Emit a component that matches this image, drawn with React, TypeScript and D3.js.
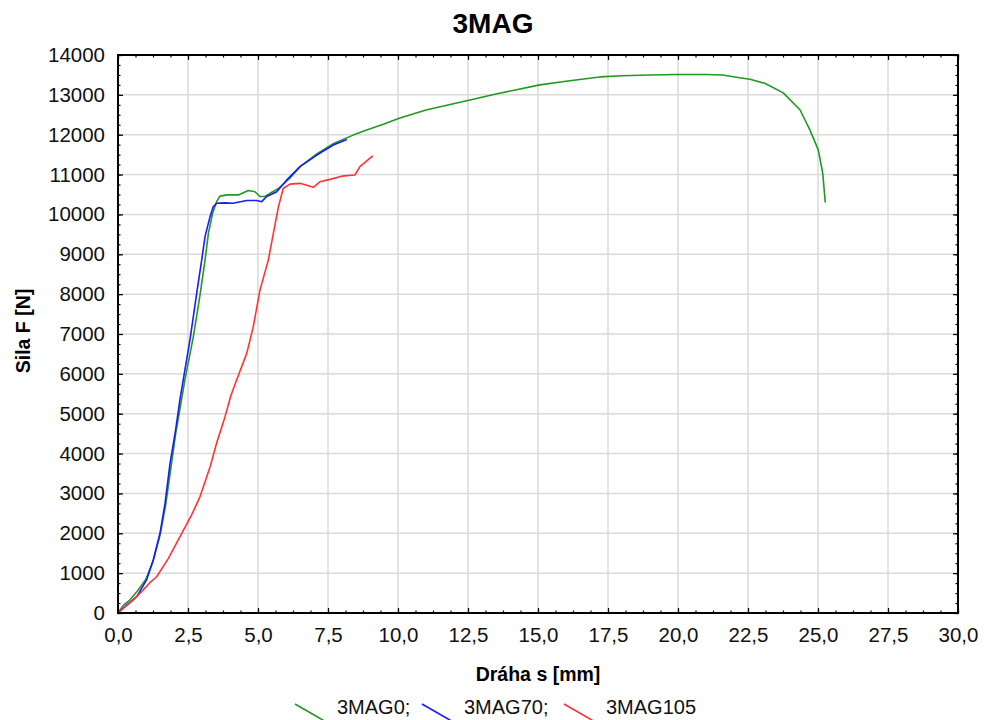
import React, { useEffect, useRef } from 'react';
import * as d3 from 'd3';

// 3MAG0 (green)
const s0 = [0, 0.2, 0.43, 0.7, 1.0, 1.25, 1.5, 1.7, 1.9, 2.06, 2.39, 2.69, 2.93, 3.11, 3.23, 3.38, 3.52, 3.64, 3.9, 4.3, 4.65, 4.89, 5.07, 5.25, 5.43, 5.73, 6.14, 6.5, 7.1, 7.7, 8.4, 8.88, 9.5, 10.07, 11.0, 12.57, 13.5, 15.07, 16.0, 17.2, 18.0, 19.0, 20.0, 21.0, 21.6, 22.2, 22.57, 23.1, 23.76, 24.36, 24.71, 25.01, 25.17, 25.26];
const f0 = [0, 200, 330, 560, 850, 1300, 1950, 2700, 3700, 4500, 5850, 6930, 7980, 8860, 9530, 10030, 10320, 10460, 10490, 10490, 10600, 10570, 10450, 10450, 10530, 10650, 10910, 11200, 11520, 11780, 11990, 12120, 12270, 12420, 12620, 12870, 13020, 13250, 13340, 13450, 13480, 13500, 13510, 13510, 13500, 13430, 13390, 13290, 13050, 12620, 12120, 11620, 11030, 10300];

// 3MAG70 (blue)
const s70 = [0, 0.31, 0.67, 1.02, 1.26, 1.5, 1.68, 1.86, 2.04, 2.21, 2.33, 2.57, 2.81, 2.99, 3.11, 3.29, 3.4, 3.52, 3.8, 4.1, 4.6, 4.95, 5.13, 5.31, 5.67, 6.02, 6.5, 7.1, 7.69, 8.17];
const f70 = [0, 200, 410, 830, 1330, 2000, 2750, 3760, 4510, 5340, 5850, 6850, 8020, 8860, 9450, 9950, 10190, 10280, 10290, 10280, 10350, 10350, 10320, 10450, 10570, 10860, 11200, 11490, 11740, 11880];

// 3MAG105 (red)
const s105 = [0, 0.55, 0.9, 1.14, 1.38, 1.8, 2.21, 2.63, 2.93, 3.29, 3.52, 3.82, 4.03, 4.24, 4.6, 4.83, 5.07, 5.37, 5.55, 5.73, 5.9, 6.14, 6.5, 6.98, 7.21, 7.57, 7.99, 8.46, 8.64, 9.1];
const f105 = [0, 330, 580, 760, 910, 1370, 1910, 2460, 2920, 3670, 4260, 4920, 5450, 5850, 6520, 7180, 8100, 8860, 9530, 10190, 10650, 10760, 10780, 10680, 10820, 10880, 10960, 10990, 11200, 11470];

const seriesNames = ['3MAG0;', '3MAG70;', '3MAG105'];
const seriesColors = ['#1f9a1f', '#1a1aff', '#ff3333'];

const xTicks = d3.range(0, 30.01, 2.5);
const yTicks = d3.range(0, 14001, 1000);

const FONT = '"Liberation Sans", Arial, sans-serif';

const App = () => {
  const svgRef = useRef<SVGSVGElement>(null);

  useEffect(() => {
    const svg = d3.select(svgRef.current);
    svg.selectAll('*').remove();

    const W = 985, H = 720;
    const margin = { top: 55, right: 27, bottom: 107, left: 118 };
    const width = W - margin.left - margin.right;
    const height = H - margin.top - margin.bottom;

    const x = d3.scaleLinear().domain([0, 30]).range([0, width]);
    const y = d3.scaleLinear().domain([0, 14000]).range([height, 0]);

    const g = svg.append('g').attr('transform', `translate(${margin.left},${margin.top})`);

    // grid
    g.append('g').selectAll('line').data(xTicks.slice(1, -1)).join('line')
      .attr('x1', d => x(d)).attr('x2', d => x(d))
      .attr('y1', 0).attr('y2', height)
      .attr('stroke', '#dadada').attr('stroke-width', 1.5);
    g.append('g').selectAll('line').data(yTicks.slice(1, -1)).join('line')
      .attr('y1', d => y(d)).attr('y2', d => y(d))
      .attr('x1', 0).attr('x2', width)
      .attr('stroke', '#dadada').attr('stroke-width', 1.5);

    // curves
    const line = d3.line<[number, number]>().x(d => x(d[0])).y(d => y(d[1]));
    const series = [d3.zip(s0, f0), d3.zip(s70, f70), d3.zip(s105, f105)] as [number, number][][];
    series.forEach((pts, i) => {
      g.append('path')
        .datum(pts)
        .attr('fill', 'none')
        .attr('stroke', seriesColors[i])
        .attr('stroke-width', 1.6)
        .attr('stroke-linejoin', 'round')
        .attr('d', line);
    });

    // axes: inside ticks on all four sides
    const xMinor = d3.range(0, 30.01, 0.625);
    const yMinor = d3.range(0, 14001, 250);

    const styleAxis = (sel: any) => {
      sel.select('.domain').remove();
      sel.selectAll('line').attr('stroke', '#000').attr('stroke-width', 1.2);
      sel.selectAll('text').style('font-family', FONT).style('font-size', '20.5px').attr('fill', '#111');
    };

    g.append('g').attr('transform', `translate(0,${height})`)
      .call(d3.axisBottom(x).tickValues(xMinor).tickSize(-2.5).tickFormat(() => '')).call(styleAxis);
    g.append('g').attr('transform', `translate(0,${height})`)
      .call(d3.axisBottom(x).tickValues(xTicks).tickSize(-5).tickPadding(14)
        .tickFormat(d => d3.format('.1f')(d as number).replace('.', ','))).call(styleAxis);
    g.append('g')
      .call(d3.axisTop(x).tickValues(xMinor).tickSize(-2.5).tickFormat(() => '')).call(styleAxis);
    g.append('g')
      .call(d3.axisTop(x).tickValues(xTicks).tickSize(-5).tickFormat(() => '')).call(styleAxis);

    g.append('g')
      .call(d3.axisLeft(y).tickValues(yMinor).tickSize(-2.5).tickFormat(() => '')).call(styleAxis);
    g.append('g')
      .call(d3.axisLeft(y).tickValues(yTicks).tickSize(-5).tickPadding(13).tickFormat(d3.format('d'))).call(styleAxis);
    g.append('g').attr('transform', `translate(${width},0)`)
      .call(d3.axisRight(y).tickValues(yMinor).tickSize(-2.5).tickFormat(() => '')).call(styleAxis);
    g.append('g').attr('transform', `translate(${width},0)`)
      .call(d3.axisRight(y).tickValues(yTicks).tickSize(-5).tickFormat(() => '')).call(styleAxis);

    // frame
    g.append('rect')
      .attr('width', width).attr('height', height)
      .attr('fill', 'none').attr('stroke', '#000').attr('stroke-width', 2);

    // title
    svg.append('text')
      .attr('x', margin.left + width / 2 - 45).attr('y', 33)
      .attr('text-anchor', 'middle')
      .style('font-family', FONT).style('font-size', '28px').style('font-weight', 'bold')
      .text('3MAG');

    // axis labels
    svg.append('text')
      .attr('x', margin.left + width / 2).attr('y', 681)
      .attr('text-anchor', 'middle')
      .style('font-family', FONT).style('font-size', '19.5px').style('font-weight', 'bold')
      .text('Dráha s [mm]');

    svg.append('text')
      .attr('transform', `translate(30, 331) rotate(-90)`)
      .attr('text-anchor', 'middle')
      .style('font-family', FONT).style('font-size', '19.5px').style('font-weight', 'bold')
      .text('Sila F [N]');

    // legend
    const legendX = [295, 422, 564];
    const legend = svg.append('g');
    seriesNames.forEach((name, i) => {
      legend.append('line')
        .attr('x1', legendX[i]).attr('y1', 704)
        .attr('x2', legendX[i] + 33).attr('y2', 723)
        .attr('stroke', seriesColors[i]).attr('stroke-width', 1.6);
      legend.append('text')
        .attr('x', legendX[i] + 42).attr('y', 714)
        .style('font-family', FONT).style('font-size', '20px')
        .attr('fill', '#111')
        .text(name);
    });
  }, []);

  return (
    <svg
      ref={svgRef}
      width={985}
      height={720}
      style={{ position: 'absolute', left: 0, top: 0, background: '#fff', display: 'block' }}
    />
  );
};

export default App;
